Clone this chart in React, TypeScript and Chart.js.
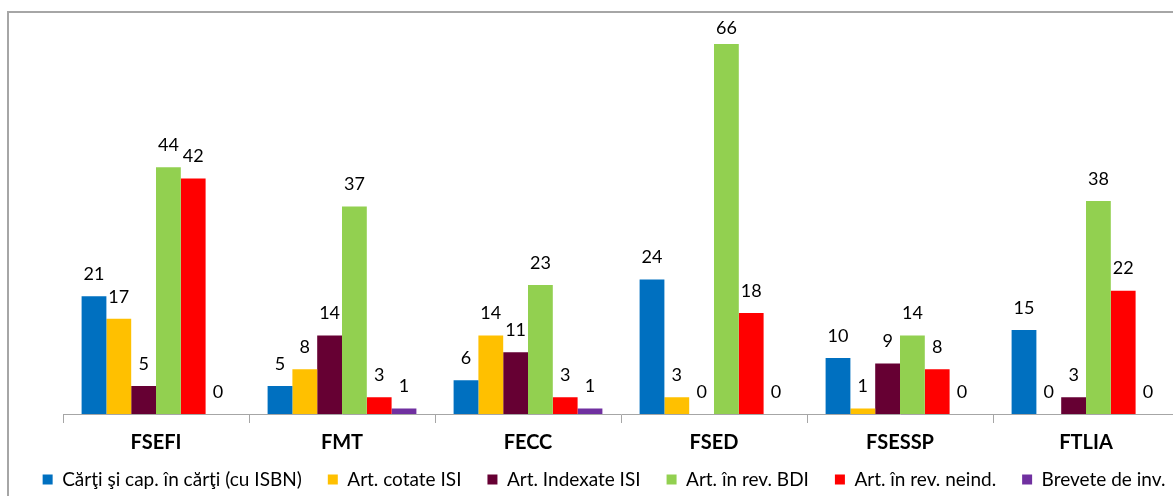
import React, { useEffect, useRef } from "react";
import { Chart, registerables } from "chart.js";

Chart.register(...registerables);

const categories = ["FSEFI", "FMT", "FECC", "FSED", "FSESSP", "FTLIA"];
const seriesNames = [
  "Cărţi şi cap. în cărţi (cu ISBN)",
  "Art. cotate ISI",
  "Art. Indexate ISI",
  "Art. în rev. BDI",
  "Art. în rev. neind.",
  "Brevete de inv.",
];
const carti = [21, 5, 6, 24, 10, 15];
const cotateISI = [17, 8, 14, 3, 1, 0];
const indexateISI = [5, 14, 11, 0, 9, 3];
const revBDI = [44, 37, 23, 66, 14, 38];
const revNeind = [42, 3, 3, 18, 8, 22];
const brevete = [0, 1, 1, 0, 0, 0];
const seriesColors = ["#0070C0", "#FFC000", "#660033", "#92D050", "#FF0000", "#7030A0"];

const FONT = "Lato, 'DejaVu Sans', sans-serif";

const valueLabels = {
  id: "valueLabels",
  afterDatasetsDraw(chart: any) {
    const ctx = chart.ctx;
    ctx.save();
    ctx.font = `18px ${FONT}`;
    ctx.fillStyle = "#000";
    ctx.textAlign = "center";
    ctx.textBaseline = "middle";
    const minY = chart.chartArea.top + 7;
    chart.data.datasets.forEach((ds: any, i: number) => {
      const meta = chart.getDatasetMeta(i);
      meta.data.forEach((el: any, j: number) => {
        const v = ds.data[j];
        ctx.fillText(String(v), el.x, Math.max(el.y - 22, minY));
      });
    });
    ctx.restore();
  },
};

const categoryLabels = {
  id: "categoryLabels",
  afterDraw(chart: any) {
    const ctx = chart.ctx;
    const xs = chart.scales.x;
    ctx.save();
    ctx.font = `bold 20px ${FONT}`;
    ctx.fillStyle = "#000";
    ctx.textAlign = "center";
    ctx.textBaseline = "middle";
    const y = chart.chartArea.bottom + 29;
    chart.data.labels.forEach((lab: string, i: number) => {
      ctx.fillText(lab, xs.getPixelForValue(i), y);
    });
    ctx.restore();
  },
};

export default function App() {
  const ref = useRef<HTMLCanvasElement>(null);
  useEffect(() => {
    const allSeries = [carti, cotateISI, indexateISI, revBDI, revNeind, brevete];
    const chart = new Chart(ref.current!, {
      type: "bar",
      data: {
        labels: categories,
        datasets: allSeries.map((d, i) => ({
          label: seriesNames[i],
          data: d,
          backgroundColor: seriesColors[i],
          borderWidth: 0,
          categoryPercentage: 0.8,
          barPercentage: 1.0,
        })),
      },
      options: {
        animation: false,
        responsive: false,
        maintainAspectRatio: false,
        layout: { padding: { top: 21.6, bottom: 0, left: 0, right: 0 } },
        plugins: {
          tooltip: { enabled: false },
          legend: {
            position: "bottom",
            labels: {
              boxWidth: 10,
              boxHeight: 10,
              padding: 26,
              color: "#000",
              font: { family: FONT, size: 19 },
            },
          },
        },
        scales: {
          x: {
            offset: true,
            grid: {
              display: true,
              offset: true,
              drawOnChartArea: false,
              drawTicks: true,
              tickLength: 9,
              color: "#a6a6a6",
            },
            border: { display: true, color: "#a6a6a6" },
            ticks: { display: false },
            afterFit(s: any) {
              s.height = 30;
            },
          },
          y: {
            display: true,
            min: 0,
            max: 70,
            ticks: { display: false },
            grid: { display: false },
            border: { display: false },
            afterFit(s: any) {
              s.width = 56;
            },
          },
          y2: {
            display: true,
            position: "right",
            min: 0,
            max: 70,
            ticks: { display: false },
            grid: { display: false },
            border: { display: false },
            afterFit(s: any) {
              s.width = 22;
            },
          },
        },
      },
      plugins: [valueLabels, categoryLabels],
    });
    return () => chart.destroy();
  }, []);

  return (
    <div
      style={{
        position: "fixed",
        left: 0,
        top: 0,
        width: 1173,
        height: 496,
        overflow: "hidden",
        background: "#fff",
      }}
    >
      <div
        style={{
          position: "absolute",
          left: 7,
          top: 11,
          width: 1300,
          height: 600,
          border: "2px solid #a6a6a6",
          boxSizing: "border-box",
        }}
      />
      <canvas
        ref={ref}
        width={1194}
        height={499}
        style={{ position: "absolute", left: 7, top: 0, width: 1194, height: 499 }}
      />
    </div>
  );
}
